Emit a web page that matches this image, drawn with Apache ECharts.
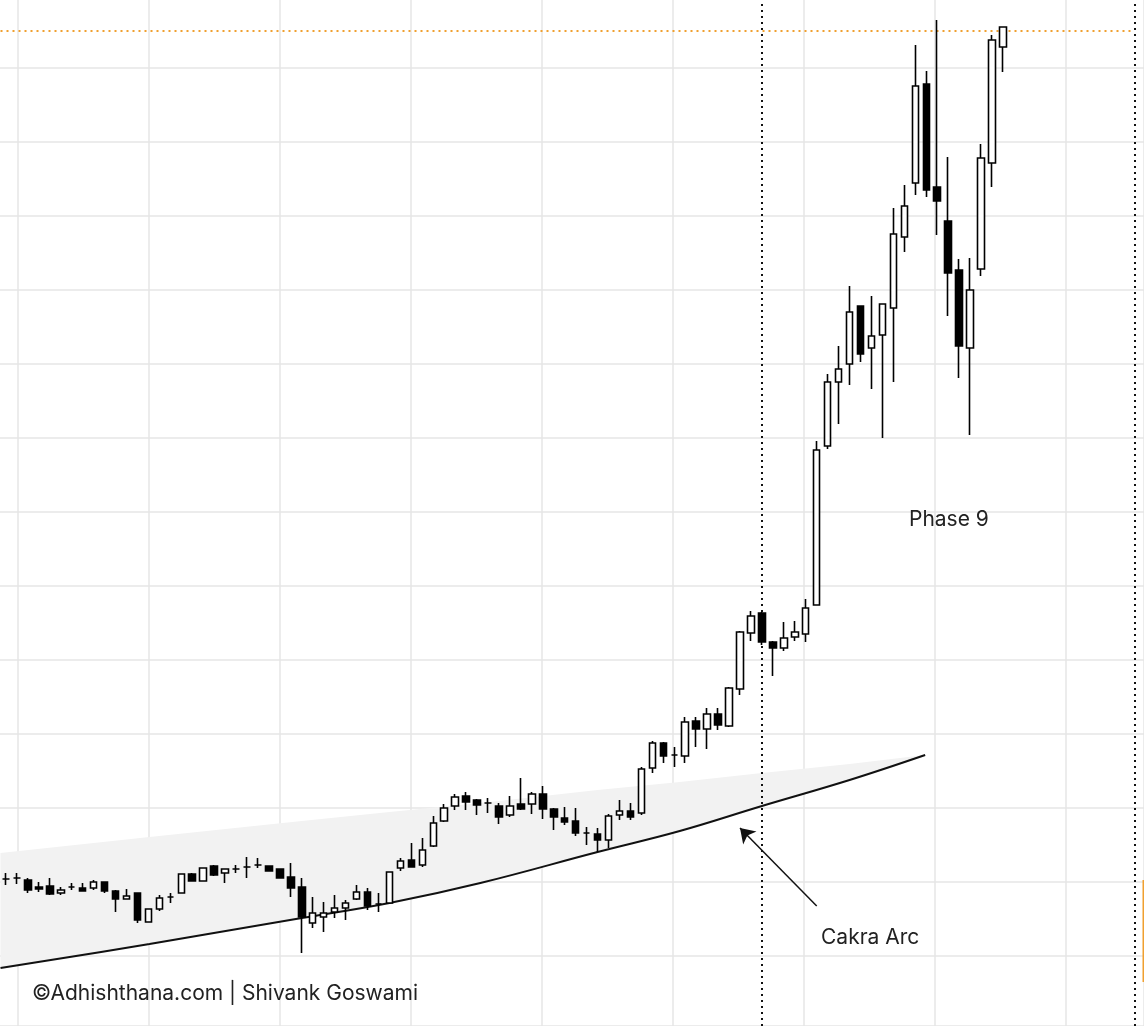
<!DOCTYPE html>
<html><head><meta charset="utf-8">
<script src="https://cdn.jsdelivr.net/npm/echarts@6/dist/echarts.min.js"></script>
<style>html,body{margin:0;padding:0;background:#fff}#c{width:1144px;height:1026px}</style>
</head><body><div id="c"></div>
<script>
const opens  = [147,148,146,139,140,133,139,138,138,144,135,127,133,104,117,129,133,152,145,160,153,157,159,161,160,157,149,139,103,109,114,118,127,134,122,123,158,166,161,180,205,220,230,226,223,220,211,222,222,232,217,208,205,193,192,186,211,215,213,258,283,271,270,305,297,312,300,337,393,413,384,378,389,392,421,580,644,662,720,678,691,718,789,843,942,839,805,756,678,757,863,979];
const closes = [147,148,136,137,132,136,139,135,144,135,127,130,106,117,128,129,152,145,158,151,157,157,159,161,155,148,138,109,113,113,118,123,134,120,122,154,165,159,176,203,218,229,224,221,223,209,220,217,232,217,209,204,193,193,186,210,215,209,257,283,270,271,304,297,312,301,338,394,410,384,378,388,394,418,576,644,657,714,672,690,722,792,820,940,836,825,753,680,736,868,986,999];
const lows   = [141,142,133,134,131,131,136,135,136,133,114,127,103,104,115,123,133,145,145,150,143,153,148,158,155,148,129,73,98,94,108,106,126,116,114,123,155,159,159,179,204,216,216,211,213,202,209,216,212,207,196,201,190,181,174,178,206,206,211,253,263,259,263,279,277,296,299,331,385,381,350,375,385,384,421,577,602,641,664,637,588,644,774,831,829,791,710,648,591,750,839,954];
const highs  = [153,153,148,144,148,139,143,143,146,144,136,137,133,117,131,133,152,153,158,161,157,161,169,168,160,157,163,148,129,124,131,126,141,138,133,154,168,183,188,210,222,232,234,227,228,223,230,248,234,240,218,219,218,199,198,212,226,223,259,285,284,279,309,309,318,318,339,395,415,414,385,404,405,427,585,652,680,740,720,730,722,818,841,981,955,1006,869,767,768,882,991,999];
const slotCount = 104;
const markerIndex = 69;
const edgeIndex = 103;
const resistance = 995;
// Cakra Arc (x in candle-index units)
const arcX   = [-0.5, 13.1, 27.0, 35.0, 43.3, 54.0, 61.5, 69.0, 77.0, 83.9];
const arcVal = [58, 82, 108, 123, 143, 174, 195, 220, 246, 271];
const shadeTop = [173, 189, 205, 214, 223, 236, 244, 253, 262, 271];
const arrowFrom = [74.0, 120], arrowTo = [67.0, 198];

const W = 1144, H = 1026;
const cats = [];
for (let i = 0; i < slotCount; i++) cats.push(String(i));
const pxX = [], pxY = [];
for (let i = 0; i < W; i++) pxX.push(i);
for (let i = 0; i < H; i++) pxY.push(i);
const candles = opens.map((o, i) => [o, closes[i], lows[i], highs[i]]);
const arcData = arcX.map((x, i) => [x, arcVal[i]]);
const shadeData = arcX.map((x, i) => [x, arcVal[i], shadeTop[i]]);

const chart = echarts.init(document.getElementById('c'));
const hideAx = {axisLine: {show: false}, axisTick: {show: false}, axisLabel: {show: false}};
const font = '"Inter", "Noto Sans", sans-serif';
chart.setOption({
  animation: false,
  backgroundColor: '#fff',
  grid: [
    {left: 0.5, right: 4.1, top: 0, bottom: 0},
    {left: 0, right: 0, top: 0, bottom: 0}
  ],
  xAxis: [
    {type: 'category', data: cats, gridIndex: 0, show: false, boundaryGap: true},
    {type: 'value', gridIndex: 0, min: -0.5, max: slotCount - 0.5, show: false},
    Object.assign({type: 'category', gridIndex: 1, data: pxX, boundaryGap: true,
      splitLine: {show: true, interval: (i) => i >= 18 && (i - 18) % 131 === 0 && i < 1100, lineStyle: {color: '#e6e6e6', width: 1.5}}}, hideAx)
  ],
  yAxis: [
    {type: 'value', gridIndex: 0, min: 0, max: 1026, show: false, splitLine: {show: false}},
    Object.assign({type: 'category', gridIndex: 1, data: pxY, inverse: true, boundaryGap: true,
      splitLine: {show: true, interval: (i) => i >= 68 && (i - 68) % 74 === 0, lineStyle: {color: '#e6e6e6', width: 1.5}}}, hideAx)
  ],
  series: [
    {type: 'custom', xAxisIndex: 1, yAxisIndex: 0, data: shadeData, z: 2, silent: true,
     renderItem: function (params, api) {
       if (params.dataIndex !== 0) return null;
       const pts = [];
       for (let i = 0; i < shadeData.length; i++) pts.push(api.coord([shadeData[i][0], shadeData[i][2]]));
       for (let i = shadeData.length - 1; i >= 0; i--) pts.push(api.coord([shadeData[i][0], shadeData[i][1]]));
       return {type: 'polygon', shape: {points: pts}, style: {fill: '#f2f2f2'}};
     }},
    {type: 'line', xAxisIndex: 1, yAxisIndex: 0, data: arcData, smooth: 0.4, symbol: 'none',
     lineStyle: {color: '#111', width: 2}, z: 3,
     markLine: {silent: true, symbol: 'none', label: {show: false},
       data: [
         [{coord: arrowFrom, symbol: 'none'}, {coord: arrowTo, symbol: 'arrow', symbolSize: 14, lineStyle: {color: '#111', width: 1.5, type: 'solid'}}],
         [{coord: [-0.5, resistance], lineStyle: {color: '#f0a030', type: [2, 4], width: 2}}, {coord: [edgeIndex, resistance]}]
       ]}},
    {type: 'candlestick', xAxisIndex: 0, yAxisIndex: 0, data: candles, barWidth: 7, z: 5,
     itemStyle: {color: '#ffffff', color0: '#000000', borderColor: '#000000', borderColor0: '#000000', borderWidth: 1.6},
     markLine: {silent: true, symbol: 'none', label: {show: false},
       data: [
         {xAxis: markerIndex, lineStyle: {color: '#111', type: [2, 4], width: 2}},
         {xAxis: edgeIndex, lineStyle: {color: '#111', type: [2, 4], width: 2}}
       ]}}
  ],
  graphic: [
    {type: 'rect', z: 100, shape: {x: 1142.5, y: 880, width: 2, height: 102}, style: {fill: '#f0a030'}},
    {type: 'text', z: 100, left: 909, top: 509, style: {text: 'Phase 9', font: '21px ' + font, fill: '#222'}},
    {type: 'text', z: 100, left: 821, top: 927, style: {text: 'Cakra Arc', font: '21px ' + font, fill: '#222'}},
    {type: 'text', z: 100, left: 32, top: 983, style: {text: '©Adhishthana.com | Shivank Goswami', font: '21px ' + font, fill: '#222'}}
  ]
});
</script></body></html>
